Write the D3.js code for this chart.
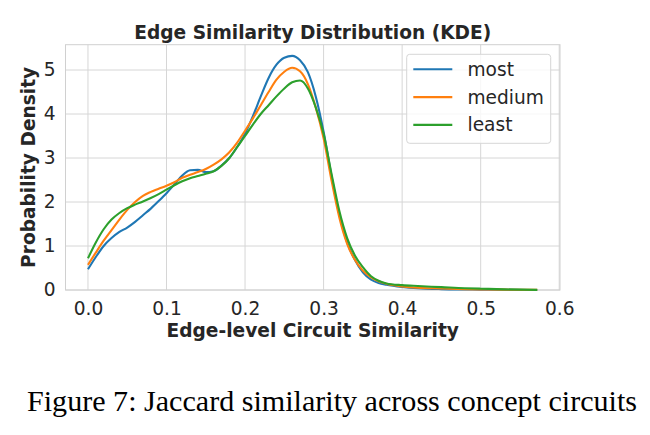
<!DOCTYPE html>
<html>
<head>
<meta charset="utf-8">
<script src="https://cdn.jsdelivr.net/npm/d3@7"></script>
<style>
  body { margin: 0; background: #fff; }
  svg text { font-family: "DejaVu Sans", sans-serif; fill: #262626; }
  .grid line { stroke: #d6d6d6; stroke-width: 1; }
  .caption { font-family: "Liberation Serif", "Times New Roman", serif; fill: #000; }
</style>
</head>
<body>
<div id="chart"></div>
<script>
// KDE curves (x = similarity, y = density)
const xs = [0, 0.01, 0.02, 0.03, 0.04, 0.05, 0.06, 0.07, 0.08, 0.09,
  0.10, 0.11, 0.12, 0.13, 0.14, 0.15, 0.16, 0.17, 0.18, 0.19,
  0.20, 0.21, 0.22, 0.23, 0.24, 0.25, 0.26, 0.27, 0.28, 0.29,
  0.30, 0.31, 0.32, 0.33, 0.34, 0.35, 0.36, 0.37, 0.38, 0.40,
  0.42, 0.45, 0.48, 0.50, 0.53, 0.572];

const most = [0.47, 0.75, 1.00, 1.18, 1.32, 1.42, 1.55, 1.70, 1.85, 2.02,
  2.20, 2.40, 2.60, 2.72, 2.73, 2.68, 2.70, 2.83, 3.00, 3.25,
  3.55, 3.95, 4.40, 4.82, 5.12, 5.28, 5.32, 5.22, 4.95, 4.40,
  3.60, 2.60, 1.72, 1.08, 0.68, 0.40, 0.24, 0.16, 0.12, 0.07,
  0.04, 0.02, 0.012, 0.008, 0.004, 0.0];

const medium = [0.57, 0.85, 1.12, 1.36, 1.60, 1.82, 2.00, 2.14, 2.23, 2.30,
  2.37, 2.45, 2.55, 2.62, 2.68, 2.75, 2.85, 2.97, 3.13, 3.35,
  3.62, 3.90, 4.20, 4.50, 4.78, 4.96, 5.05, 4.97, 4.68, 4.15,
  3.45, 2.50, 1.65, 1.05, 0.68, 0.44, 0.29, 0.20, 0.14, 0.08,
  0.05, 0.035, 0.02, 0.015, 0.008, 0.002];

const least = [0.72, 1.08, 1.38, 1.60, 1.75, 1.86, 1.94, 2.01, 2.09, 2.18,
  2.28, 2.38, 2.47, 2.54, 2.59, 2.64, 2.70, 2.82, 3.00, 3.25,
  3.50, 3.76, 4.00, 4.20, 4.40, 4.58, 4.72, 4.76, 4.58, 4.15,
  3.55, 2.65, 1.80, 1.18, 0.78, 0.52, 0.32, 0.21, 0.15, 0.11,
  0.09, 0.065, 0.04, 0.03, 0.015, 0.002];

const seriesNames = ["most", "medium", "least"];
const seriesValues = [most, medium, least];
const colors = ["#1f77b4", "#ff7f0e", "#2ca02c"];

const xTicks = [0.0, 0.1, 0.2, 0.3, 0.4, 0.5, 0.6];
const yTicks = [0, 1, 2, 3, 4, 5];

const width = 650, height = 435;
const plot = { left: 65.5, right: 560, top: 44.7, bottom: 290 };
const fs = "18.6px";

const svg = d3.select("#chart").append("svg")
  .attr("width", width)
  .attr("height", height);

const x = d3.scaleLinear().domain([-0.0286, 0.601]).range([plot.left, plot.right]);
const y = d3.scaleLinear().domain([0, 5.575]).range([plot.bottom, plot.top]);

// grid lines
const grid = svg.append("g").attr("class", "grid");
grid.selectAll(".gx").data(xTicks).enter().append("line")
  .attr("x1", d => x(d)).attr("x2", d => x(d))
  .attr("y1", plot.top).attr("y2", plot.bottom);
grid.selectAll(".gy").data(yTicks).enter().append("line")
  .attr("x1", plot.left).attr("x2", plot.right)
  .attr("y1", d => y(d)).attr("y2", d => y(d));

// frame
svg.append("rect")
  .attr("x", plot.left).attr("y", plot.top)
  .attr("width", plot.right - plot.left)
  .attr("height", plot.bottom - plot.top)
  .attr("fill", "none")
  .attr("stroke", "#d0d0d0")
  .attr("stroke-width", 1);

// axes (no tick marks, seaborn whitegrid style)
const xAxis = svg.append("g")
  .attr("transform", `translate(0,${plot.bottom})`)
  .call(d3.axisBottom(x).tickValues(xTicks).tickFormat(d3.format(".1f")).tickSize(0).tickPadding(10));
const yAxis = svg.append("g")
  .attr("transform", `translate(${plot.left},0)`)
  .call(d3.axisLeft(y).tickValues(yTicks).tickFormat(d3.format("d")).tickSize(0).tickPadding(10));
[xAxis, yAxis].forEach(a => {
  a.select(".domain").remove();
  a.selectAll("text").style("font-size", fs).attr("fill", "#262626");
});
xAxis.selectAll("text").attr("dy", "0.82em");

// curves
const line = d3.line()
  .x(d => x(d[0]))
  .y(d => y(d[1]))
  .curve(d3.curveMonotoneX);

seriesValues.forEach((vals, i) => {
  svg.append("path")
    .datum(xs.map((v, j) => [v, vals[j]]))
    .attr("fill", "none")
    .attr("stroke", colors[i])
    .attr("stroke-width", 2.1)
    .attr("stroke-linejoin", "round")
    .attr("d", line);
});

// legend
const legend = svg.append("g");
legend.append("rect")
  .attr("x", 406.7).attr("y", 54.3)
  .attr("width", 144).attr("height", 89)
  .attr("rx", 3)
  .attr("fill", "#fff").attr("fill-opacity", 0.8)
  .attr("stroke", "#d6d6d6");
seriesNames.forEach((name, i) => {
  const yy = 69.3 + i * 27.8;
  legend.append("line")
    .attr("x1", 413.3).attr("x2", 452.3)
    .attr("y1", yy).attr("y2", yy)
    .attr("stroke", colors[i]).attr("stroke-width", 2.1);
  legend.append("text")
    .attr("x", 467.5).attr("y", yy)
    .attr("dy", "0.35em")
    .style("font-size", fs)
    .text(name);
});

// titles
svg.append("text")
  .attr("x", (plot.left + plot.right) / 2).attr("y", 38.5)
  .attr("text-anchor", "middle")
  .style("font-size", fs).style("font-weight", "bold")
  .text("Edge Similarity Distribution (KDE)");

svg.append("text")
  .attr("x", (plot.left + plot.right) / 2).attr("y", 337)
  .attr("text-anchor", "middle")
  .style("font-size", fs).style("font-weight", "bold")
  .text("Edge-level Circuit Similarity");

svg.append("text")
  .attr("transform", `translate(35,${(plot.top + plot.bottom) / 2}) rotate(-90)`)
  .attr("text-anchor", "middle")
  .style("font-size", fs).style("font-weight", "bold")
  .text("Probability Density");

svg.append("text")
  .attr("class", "caption")
  .attr("x", 332).attr("y", 411)
  .attr("text-anchor", "middle")
  .attr("textLength", 610)
  .attr("lengthAdjust", "spacingAndGlyphs")
  .style("font-size", "28.5px")
  .text("Figure 7: Jaccard similarity across concept circuits");
</script>
</body>
</html>
